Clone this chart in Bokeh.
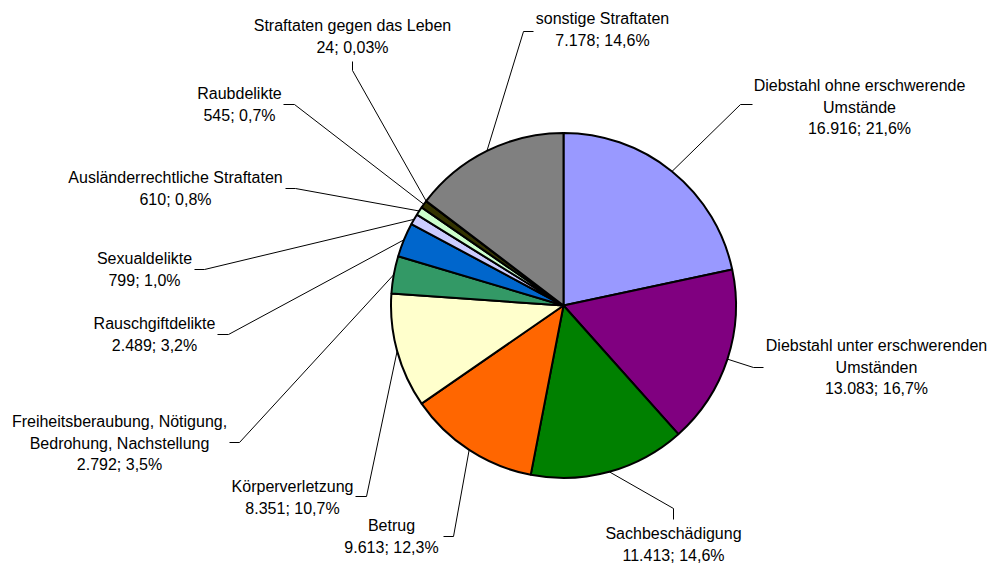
import math
from bokeh.plotting import figure
from bokeh.models import Range1d, ColumnDataSource
from bokeh.core.properties import value
from bokeh.embed import file_html
from bokeh.resources import INLINE

# ---------------- data ----------------
categories = [
    "Diebstahl ohne erschwerende\nUmstände",
    "Diebstahl unter erschwerenden\nUmständen",
    "Sachbeschädigung",
    "Betrug",
    "Körperverletzung",
    "Freiheitsberaubung, Nötigung,\nBedrohung, Nachstellung",
    "Rauschgiftdelikte",
    "Sexualdelikte",
    "Ausländerrechtliche Straftaten",
    "Raubdelikte",
    "Straftaten gegen das Leben",
    "sonstige Straftaten",
]
counts = [16916, 13083, 11413, 9613, 8351, 2792, 2489, 799, 610, 545, 24, 7178]
shares = [21.6, 16.7, 14.6, 12.3, 10.7, 3.5, 3.2, 1.0, 0.8, 0.7, 0.03, 14.6]
colors = ["#9999FF", "#800080", "#008000", "#FF6600", "#FFFFCC", "#339966",
          "#0066CC", "#CCCCFF", "#CCFFCC", "#333300", "#000000", "#808080"]

# ---------------- layout (screen pixels of the page) ----------------
CX, CY, R = 563, 305, 172.5
label_pos = [(859, 85), (876, 345), (673, 533), (391, 525), (292, 486),
             (119, 421), (154, 323), (144, 258), (175, 177), (239, 93),
             (352, 25), (602, 18)]
leader_bends = [((740, 104), (752, 104)), ((753, 367), (763, 367)),
                ((673, 508), (673, 519)), ((453, 536), (443, 536)),
                ((366, 496), (355, 496)), ((239, 442), (229, 442)),
                ((228, 334), (217, 334)), ((204, 269), (194, 269)),
                ((295, 188), (285, 188)), ((294, 104), (283, 104)),
                ((352, 70), (352, 61)), ((523, 31), (533, 31))]
LINE_GAP = 21.5
W, H = 991, 563


def X(xp):
    return xp - CX


def Y(yp):
    return CY - yp


def fmt_count(v):
    return f"{v:,}".replace(",", ".")


def fmt_share(s):
    return (f"{s:.2f}" if s < 0.1 else f"{s:.1f}").replace(".", ",") + "%"


total = sum(shares)
starts, ends, mids = [], [], []
cum = 0.0
for s in shares:
    a0 = math.pi / 2 - 2 * math.pi * cum / total
    cum += s
    a1 = math.pi / 2 - 2 * math.pi * cum / total
    starts.append(a1)
    ends.append(a0)
    mids.append((a0 + a1) / 2)

p = figure(width=W, height=H, x_range=Range1d(X(0), X(W)),
           y_range=Range1d(Y(H), Y(0)), output_backend="svg",
           toolbar_location=None, min_border=0)
p.axis.visible = False
p.grid.visible = False
p.outline_line_color = None
p.background_fill_color = "white"
p.border_fill_color = "white"

src = ColumnDataSource(dict(start=starts, end=ends, color=colors, name=categories))
p.wedge(x=0, y=0, radius=R, start_angle="start", end_angle="end",
        direction="anticlock", fill_color="color", line_color="black",
        line_width=2, source=src)

# leader lines
xs, ys = [], []
for m, (b1, b2) in zip(mids, leader_bends):
    xs.append([R * math.cos(m), X(b1[0]), X(b2[0])])
    ys.append([R * math.sin(m), Y(b1[1]), Y(b2[1])])
p.multi_line(xs=xs, ys=ys, line_color="black", line_width=1)

# labels
tx, ty, tt = [], [], []
for name, c, s, (lx, ly) in zip(categories, counts, shares, label_pos):
    lines = name.split("\n") + [f"{fmt_count(c)}; {fmt_share(s)}"]
    for j, ln in enumerate(lines):
        tx.append(X(lx))
        ty.append(Y(ly + j * LINE_GAP))
        tt.append(ln)
p.text(x=tx, y=ty, text=tt, text_align="center", text_baseline="middle",
       text_font=value("Liberation Sans"), text_font_size="16px",
       text_color="black")

open("out.html", "w").write(file_html(p, INLINE))
